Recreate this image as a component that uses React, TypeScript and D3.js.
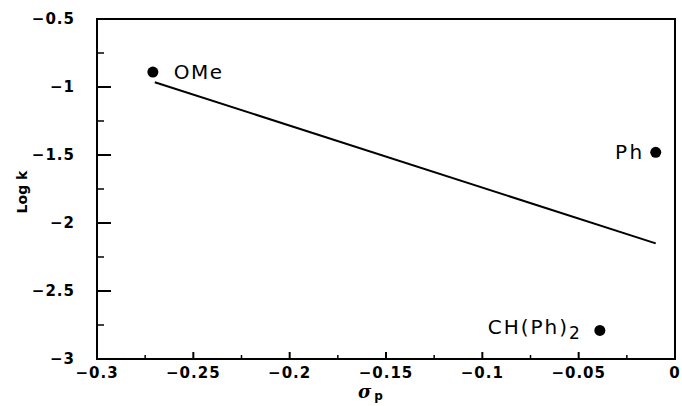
import React from "react";
import * as d3 from "d3";

const substituents = ["OMe", "Ph", "CH(Ph)2"];
const sigmaP = [-0.271, -0.01, -0.039];
const logK = [-0.89, -1.48, -2.79];
const fitX = [-0.27, -0.01];
const fitY = [-0.965, -2.15];
const xMajorTicks = [-0.3, -0.25, -0.2, -0.15, -0.1, -0.05, 0];
const xTickLabels = ["−0.3", "−0.25", "−0.2", "−0.15", "−0.1", "−0.05", "0"];
const xMinorTicks = [-0.275, -0.225, -0.175, -0.125, -0.075, -0.025];
const yMajorTicks = [-3, -2.5, -2, -1.5, -1, -0.5];
const yTickLabels = ["−3", "−2.5", "−2", "−1.5", "−1", "−0.5"];
const yMinorTicks = [-2.75, -2.25, -1.75, -1.25, -0.75];

const W = 682;
const H = 406;
const left = 97, right = 675, top = 19, bottom = 359;

export default function App() {
  const x = d3.scaleLinear().domain([-0.3, 0]).range([left, right]);
  const y = d3.scaleLinear().domain([-3, -0.5]).range([bottom, top]);
  const line = d3
    .line<number>()
    .x((_, i) => x(fitX[i]))
    .y((d) => y(d));

  const tickFont = "'DejaVu Sans', sans-serif";
  const labelFont = "'DejaVu Sans', sans-serif";

  return (
    <svg
      width={W}
      height={H}
      style={{ position: "absolute", left: 0, top: 0, background: "#fff" }}
    >
      <rect x={0} y={0} width={W} height={H} fill="#fff" />
      {/* frame */}
      <rect
        x={left}
        y={top}
        width={right - left}
        height={bottom - top}
        fill="none"
        stroke="#000"
        strokeWidth={2}
      />
      {/* y ticks */}
      {yMajorTicks.map((t) => (
        <line key={"ym" + t} x1={left} x2={left + 14} y1={y(t)} y2={y(t)} stroke="#000" strokeWidth={2} />
      ))}
      {yMinorTicks.map((t) => (
        <line key={"yn" + t} x1={left} x2={left + 7} y1={y(t)} y2={y(t)} stroke="#000" strokeWidth={1.5} />
      ))}
      {yMajorTicks.map((t, i) => (
        <text
          key={"yl" + t}
          x={left - 22}
          y={y(t)}
          dy="0.36em"
          textAnchor="end"
          fontFamily={tickFont}
          fontWeight="bold"
          fontSize={15}
          letterSpacing={1}
        >
          {yTickLabels[i]}
        </text>
      ))}
      {/* x ticks */}
      {xMajorTicks.map((t) => (
        <line key={"xm" + t} x1={x(t)} x2={x(t)} y1={bottom} y2={bottom - 7} stroke="#000" strokeWidth={2} />
      ))}
      {xMinorTicks.map((t) => (
        <line key={"xn" + t} x1={x(t)} x2={x(t)} y1={bottom} y2={bottom - 4} stroke="#000" strokeWidth={1.5} />
      ))}
      {xMajorTicks.map((t, i) => (
        <text
          key={"xl" + t}
          x={x(t)}
          y={bottom + 19}
          textAnchor="middle"
          fontFamily={tickFont}
          fontWeight="bold"
          fontSize={15}
          letterSpacing={1}
        >
          {xTickLabels[i]}
        </text>
      ))}
      {/* axis titles */}
      <text
        transform={`translate(27, 192) rotate(-90)`}
        textAnchor="middle"
        fontFamily={tickFont}
        fontWeight="bold"
        fontSize={14}
      >
        Log k
      </text>
      <text
        x={358}
        y={398}
        fontFamily="'DejaVu Serif', serif"
        fontWeight="bold"
        fontStyle="italic"
        fontSize={18}
      >
        σ
        <tspan dx={3} dy={2} fontSize={12} fontFamily={tickFont} fontStyle="normal">
          p
        </tspan>
      </text>
      {/* fit line */}
      <path d={line(fitY) || ""} fill="none" stroke="#000" strokeWidth={2} />
      {/* points */}
      {sigmaP.map((s, i) => (
        <circle key={"p" + i} cx={x(s)} cy={y(logK[i])} r={5.5} fill="#000" />
      ))}
      {/* point labels */}
      <text
        x={x(sigmaP[0]) + 21}
        y={y(logK[0])}
        dy="0.36em"
        fontFamily={labelFont}
        fontSize={20}
        letterSpacing={1.5}
      >
        {substituents[0]}
      </text>
      <text
        x={x(sigmaP[1]) - 11}
        y={y(logK[1])}
        dy="0.36em"
        textAnchor="end"
        fontFamily={labelFont}
        fontSize={20}
        letterSpacing={2.5}
      >
        {substituents[1]}
      </text>
      <text
        x={x(sigmaP[2]) - 18}
        y={y(logK[2]) + 4}
        textAnchor="end"
        fontFamily={labelFont}
        fontSize={20}
        letterSpacing={2}
      >
        CH(Ph)
        <tspan dy={5} fontSize={17}>2</tspan>
      </text>
    </svg>
  );
}
